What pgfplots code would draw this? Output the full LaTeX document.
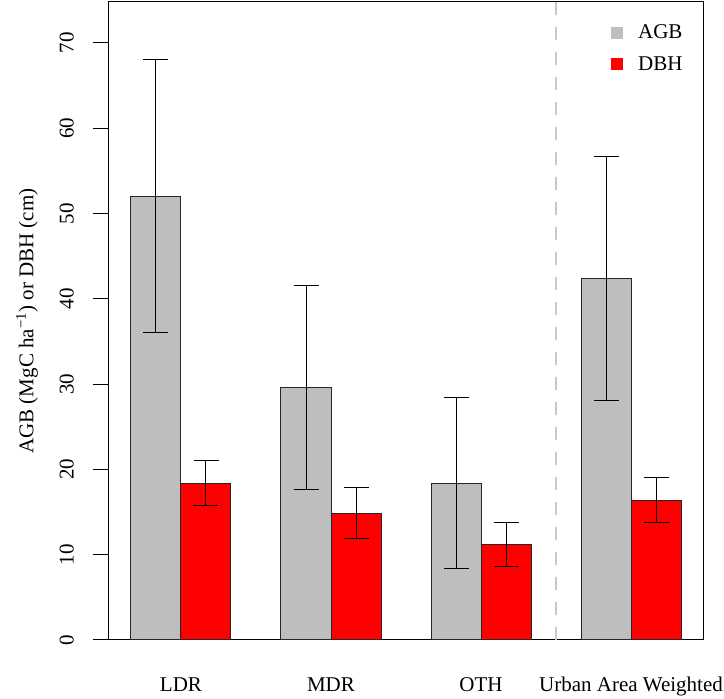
\documentclass[border=0pt]{standalone}
\usepackage{pgfplots}
\usepackage{pgfplotstable}
\pgfplotsset{compat=1.18}
\usepackage{fontspec}
\setmainfont{Liberation Serif}
\definecolor{rgray}{HTML}{BEBEBE}
\definecolor{rred}{HTML}{FF0000}
\definecolor{dashgray}{HTML}{C8C8C8}
\newcommand{\fs}{\fontsize{21}{25}\selectfont}
\pgfplotstableread{
x y e
1.5 52.0 16.0
4.5 29.6 12.0
7.5 18.4 10.0
10.5 42.4 14.3
}\agb
\pgfplotstableread{
x y e
2.5 18.4 2.6
5.5 14.85 3.0
8.5 11.2 2.6
11.5 16.4 2.6
}\dbh
\begin{document}
\begin{tikzpicture}
\begin{axis}[
  scale only axis, width=594pt, height=638pt,
  at={(109pt,59pt)}, anchor=south west,
  xmin=0.56, xmax=12.44, ymin=0, ymax=74.8,
  axis line style={line width=1pt, black},
  ytick={0,10,...,70}, ytick pos=left,
  tick align=outside, major tick length=16pt,
  tick style={line width=1pt, black},
  xtick={2,5,8,11},
  xticklabels={LDR,MDR,OTH,Urban Area Weighted},
  x tick style={draw=none},
  xticklabel style={anchor=base, inner sep=0pt, yshift=-36pt},
  yticklabel style={rotate=90, anchor=south, inner sep=0pt},
  yticklabel shift=19pt,
  ticklabel style={font=\fs},
  /pgf/number format/assume math mode=true,
  legend style={draw=none, fill=none, at={(axis description cs:0.845,0.969)},
    anchor=north west, inner sep=0pt, font=\fs, row sep=10pt,
    nodes={inner sep=3pt}},
  legend cell align=left,
  clip=false,
]
\addplot[ybar, bar width=1, bar shift=0pt, fill=rgray, draw=black!85, line width=1pt,
  legend image code/.code={\fill[rgray] (0pt,-5.5pt) rectangle (11pt,5.5pt); \path (23pt,0pt);},
  error bars/.cd, y dir=both, y explicit, error mark=|,
  error bar style={line width=1pt, black},
  error mark options={mark size=12.5pt, line width=1pt, black}]
  table[x=x, y=y, y error=e] {\agb};
\addlegendentry{AGB}
\addplot[ybar, bar width=1, bar shift=0pt, fill=rred, draw=black!85, line width=1pt,
  legend image code/.code={\fill[rred] (0pt,-5.5pt) rectangle (11pt,5.5pt); \path (23pt,0pt);},
  error bars/.cd, y dir=both, y explicit, error mark=|,
  error bar style={line width=1pt, black},
  error mark options={mark size=12.5pt, line width=1pt, black}]
  table[x=x, y=y, y error=e] {\dbh};
\addlegendentry{DBH}
\addplot[dashgray, line width=2.5pt, dash pattern=on 13pt off 12pt, forget plot]
  coordinates {(9.5,0) (9.5,74.8)};
\node[rotate=90, font=\fs] at (axis description cs:-0.138,0.5)
  {AGB (MgC ha\textsuperscript{−1}) or DBH (cm)};
\end{axis}
\pgfresetboundingbox
\path[use as bounding box] (0,0) rectangle (724pt,699pt);
\end{tikzpicture}
\end{document}
